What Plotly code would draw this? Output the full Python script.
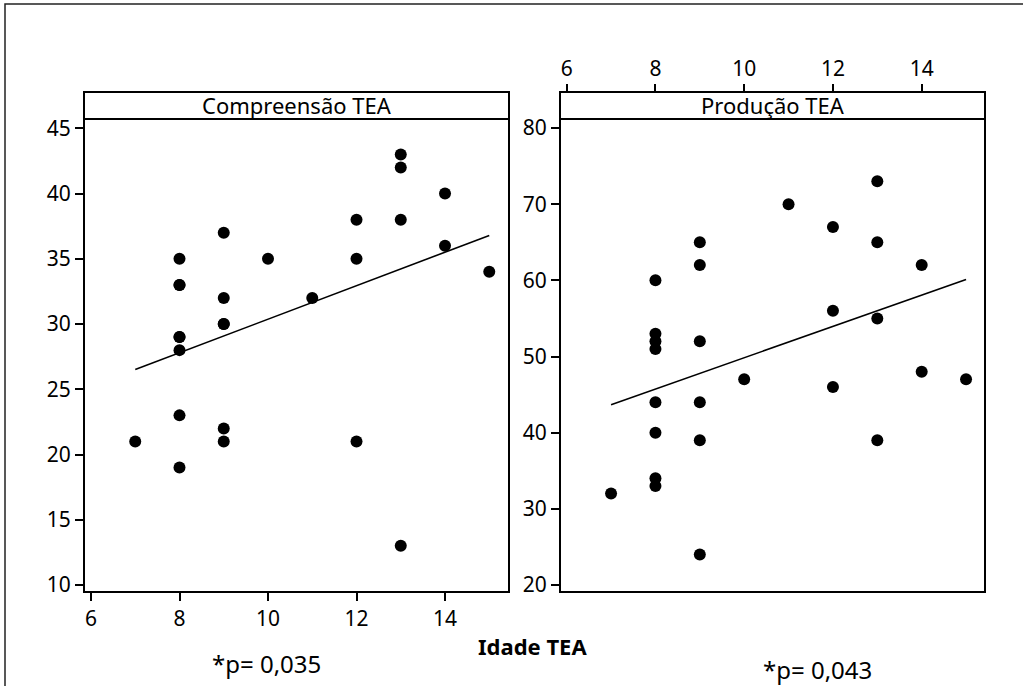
import numpy as np
import plotly.graph_objects as go

# ---- data ----
idade = [7, 8, 8, 8, 8, 8, 8, 8, 8, 9, 9, 9, 9, 9, 9, 10, 11, 12, 12, 12, 13, 13, 13, 13, 14, 14, 15]
compreensao = [21, 35, 33, 33, 29, 29, 28, 23, 19, 37, 32, 30, 30, 22, 21, 35, 32, 38, 35, 21, 43, 42, 38, 13, 40, 36, 34]
producao = [32, 60, 53, 52, 51, 44, 40, 34, 33, 65, 62, 52, 44, 39, 24, 47, 70, 67, 56, 46, 73, 65, 55, 39, 62, 48, 47]

x_ticks = [6, 8, 10, 12, 14]
y1_ticks = [10, 15, 20, 25, 30, 35, 40, 45]
y2_ticks = [20, 30, 40, 50, 60, 70, 80]

panel_titles = ["Compreensão TEA", "Produção TEA"]
x_title = "Idade TEA"
p_texts = ["*p= 0,035", "*p= 0,043"]

W, H = 1023, 686
FONT = "Noto Sans"


def px(x):
    return x / W


def py(y):
    return 1 - y / H


def fit_line(x, y):
    b, a = np.polyfit(x, y, 1)
    xs = np.array([min(x), max(x)], dtype=float)
    return xs, a + b * xs


fig = go.Figure()

xs1, ys1 = fit_line(idade, compreensao)
xs2, ys2 = fit_line(idade, producao)

fig.add_trace(go.Scatter(x=idade, y=compreensao, mode="markers",
                         marker=dict(color="black", size=12), xaxis="x", yaxis="y"))
fig.add_trace(go.Scatter(x=xs1, y=ys1, mode="lines",
                         line=dict(color="black", width=1.6), xaxis="x", yaxis="y"))
fig.add_trace(go.Scatter(x=idade, y=producao, mode="markers",
                         marker=dict(color="black", size=12), xaxis="x2", yaxis="y2"))
fig.add_trace(go.Scatter(x=xs2, y=ys2, mode="lines",
                         line=dict(color="black", width=1.6), xaxis="x2", yaxis="y2"))

L1, R1 = 84, 509
L2, R2 = 560, 985
STRIP_T, PLOT_T, PLOT_B = 92, 119, 592

tickfont = dict(family=FONT, size=21, color="black")
axis_common = dict(showgrid=False, zeroline=False, showline=False, ticks="outside",
                   ticklen=8, tickwidth=1.5, tickcolor="black", tickfont=tickfont,
                   fixedrange=True, automargin=False)

fig.update_layout(
    template="none",
    width=W, height=H, autosize=False,
    margin=dict(l=0, r=0, t=0, b=0, pad=0),
    paper_bgcolor="white", plot_bgcolor="white",
    showlegend=False,
    xaxis=dict(domain=[px(L1), px(R1)], range=[5.842, 15.446], tickvals=x_ticks,
               anchor="y", **axis_common),
    yaxis=dict(domain=[py(PLOT_B), py(PLOT_T)], range=[9.464, 45.713], tickvals=y1_ticks,
               anchor="x", **axis_common),
    xaxis2=dict(domain=[px(L2), px(R2)], range=[5.849, 15.427], tickvals=x_ticks,
                side="top", anchor="free", position=py(STRIP_T), **axis_common),
    yaxis2=dict(domain=[py(PLOT_B), py(PLOT_T)], range=[19.079, 81.184], tickvals=y2_ticks,
                anchor="x2", **axis_common),
)

shapes = []
# outer frame
shapes.append(dict(type="rect", xref="paper", yref="paper", x0=px(5), x1=px(1030),
                   y0=py(700), y1=py(4), line=dict(color="#222", width=1.5)))
for L, R in [(L1, R1), (L2, R2)]:
    shapes.append(dict(type="rect", xref="paper", yref="paper", x0=px(L), x1=px(R),
                       y0=py(PLOT_T), y1=py(STRIP_T), line=dict(color="black", width=2)))
    shapes.append(dict(type="rect", xref="paper", yref="paper", x0=px(L), x1=px(R),
                       y0=py(PLOT_B), y1=py(PLOT_T), line=dict(color="black", width=2)))
fig.update_layout(shapes=shapes)

ann = []
for (L, R), t in zip([(L1, R1), (L2, R2)], panel_titles):
    ann.append(dict(x=px((L + R) / 2), y=py(105.5), xref="paper", yref="paper",
                    text=t, showarrow=False, xanchor="center", yanchor="middle",
                    font=dict(family=FONT, size=22, color="black")))
ann.append(dict(x=px(532), y=py(646), xref="paper", yref="paper", text="<b>" + x_title + "</b>",
                showarrow=False, xanchor="center", yanchor="middle",
                font=dict(family=FONT, size=22, color="black")))
ann.append(dict(x=px(266), y=py(663), xref="paper", yref="paper", text=p_texts[0],
                showarrow=False, xanchor="center", yanchor="middle",
                font=dict(family=FONT, size=24, color="black")))
ann.append(dict(x=px(817), y=py(669), xref="paper", yref="paper", text=p_texts[1],
                showarrow=False, xanchor="center", yanchor="middle",
                font=dict(family=FONT, size=24, color="black")))
fig.update_layout(annotations=ann)

fig.write_html("out.html", config={"displayModeBar": False},
               post_script="document.body.style.margin='0';document.body.style.overflow='hidden';")
